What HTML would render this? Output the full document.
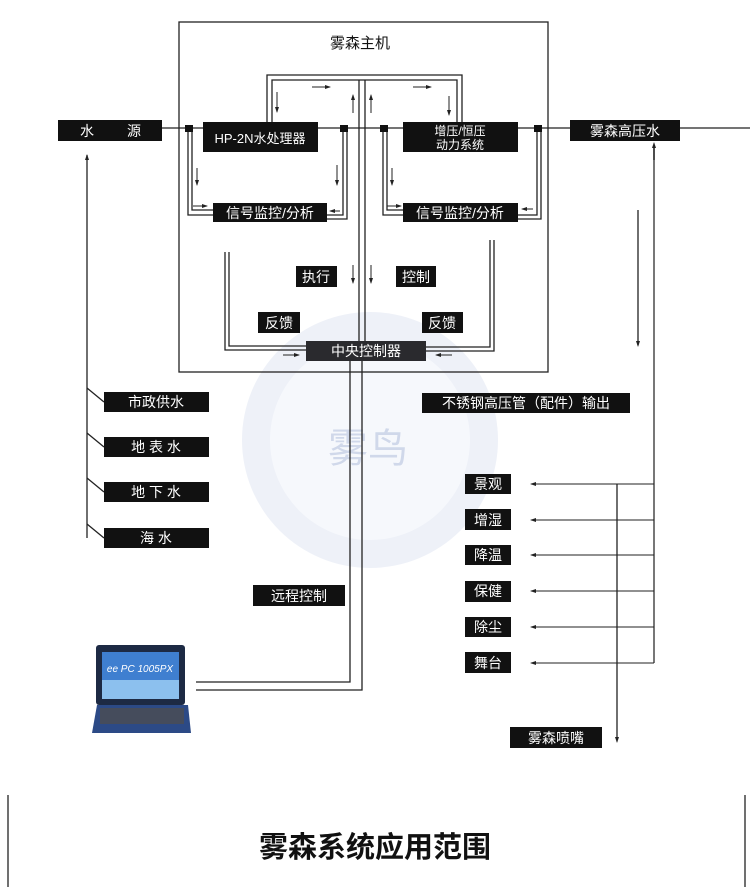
<!DOCTYPE html>
<html><head><meta charset="utf-8"><style>
html,body{margin:0;padding:0;background:#fff}
svg{display:block}
text{font-family:"Liberation Sans","Noto Sans CJK SC",sans-serif}
.w{fill:#fff;font-size:14px}
</style></head><body>
<svg width="750" height="887" viewBox="0 0 750 887" xmlns="http://www.w3.org/2000/svg">
<defs><marker id="a" markerWidth="6" markerHeight="6" refX="5" refY="3" orient="auto"><path d="M0,1 L6,3 L0,5z" fill="#222"/></marker></defs>
<!-- watermark -->
<circle cx="370" cy="440" r="128" fill="#eef1f8"/>
<circle cx="370" cy="440" r="100" fill="#f6f8fc"/>
<text x="368" y="462" font-size="40" fill="#d0d8ea" text-anchor="middle">雾鸟</text>
<g fill="none" stroke="#222" stroke-width="1.3">
<rect x="179" y="22" width="369" height="350"/>
<line x1="58" y1="128" x2="750" y2="128"/>
<!-- top loop -->
<path d="M267 128 V75 H462 V128"/><path d="M272 128 V80 H457 V128"/>
<line x1="359" y1="80" x2="359" y2="345"/><line x1="365" y1="80" x2="365" y2="345"/>
<!-- left signal loops -->
<path d="M188 128 V215 H213"/><path d="M192 128 V210 H213"/>
<path d="M343 128 V215 H327"/><path d="M347 128 V219 H327"/>
<path d="M383 128 V215 H403"/><path d="M387 128 V210 H403"/>
<path d="M537 128 V215 H518"/><path d="M541 128 V219 H518"/>
<!-- feedback -->
<path d="M225 252 V350 H306"/><path d="M229 252 V346 H306"/>
<path d="M490 240 V347 H426"/><path d="M494 240 V351 H426"/>
<!-- remote -->
<path d="M350 361 V682 H196"/><path d="M362 361 V690 H196"/>
<!-- left sources -->
<line x1="87" y1="155" x2="87" y2="538"/>
<line x1="87" y1="388" x2="104" y2="402"/><line x1="87" y1="433" x2="104" y2="447"/>
<line x1="87" y1="478" x2="104" y2="492"/><line x1="87" y1="524" x2="104" y2="538"/>
<!-- right -->
<line x1="654" y1="663" x2="654" y2="146" stroke="#777" stroke-width="2"/>
<line x1="638" y1="210" x2="638" y2="345"/>
<line x1="617" y1="484" x2="617" y2="740"/>
<g stroke-width="1">
<line x1="654" y1="484" x2="533" y2="484"/><line x1="654" y1="520" x2="533" y2="520"/>
<line x1="654" y1="555" x2="533" y2="555"/><line x1="654" y1="591" x2="533" y2="591"/>
<line x1="654" y1="627" x2="533" y2="627"/><line x1="654" y1="663" x2="533" y2="663"/>
</g>
<line x1="8" y1="795" x2="8" y2="887"/><line x1="745" y1="795" x2="745" y2="887"/>
</g>
<!-- small arrows -->
<g stroke="#222" stroke-width="1" marker-end="url(#a)">
<line x1="312" y1="87" x2="330" y2="87"/><line x1="413" y1="87" x2="431" y2="87"/>
<line x1="277" y1="92" x2="277" y2="112"/><line x1="449" y1="96" x2="449" y2="115"/>
<line x1="353" y1="113" x2="353" y2="95"/><line x1="371" y1="113" x2="371" y2="95"/>
<line x1="197" y1="168" x2="197" y2="185"/><line x1="337" y1="165" x2="337" y2="185"/>
<line x1="392" y1="168" x2="392" y2="185"/>
<line x1="193" y1="206" x2="207" y2="206"/><line x1="387" y1="206" x2="401" y2="206"/>
<line x1="340" y1="211" x2="330" y2="211"/><line x1="533" y1="209" x2="522" y2="209"/>
<line x1="353" y1="265" x2="353" y2="283"/><line x1="371" y1="265" x2="371" y2="283"/>
<line x1="283" y1="355" x2="299" y2="355"/><line x1="452" y1="355" x2="436" y2="355"/>
<line x1="654" y1="160" x2="654" y2="143"/><line x1="638" y1="330" x2="638" y2="346"/>
<line x1="617" y1="730" x2="617" y2="742"/>
<line x1="87" y1="170" x2="87" y2="155"/>
<line x1="545" y1="484" x2="531" y2="484"/><line x1="545" y1="520" x2="531" y2="520"/>
<line x1="545" y1="555" x2="531" y2="555"/><line x1="545" y1="591" x2="531" y2="591"/>
<line x1="545" y1="627" x2="531" y2="627"/><line x1="545" y1="663" x2="531" y2="663"/>
</g>
<g fill="#111">
<rect x="185" y="125" width="8" height="7"/><rect x="340" y="125" width="8" height="7"/>
<rect x="380" y="125" width="8" height="7"/><rect x="534" y="125" width="8" height="7"/>
<rect x="58" y="120" width="104" height="21"/><rect x="570" y="120" width="110" height="21"/>
<rect x="203" y="122" width="115" height="30"/><rect x="403" y="122" width="115" height="30"/>
<rect x="213" y="203" width="114" height="19"/><rect x="403" y="203" width="115" height="19"/>
<rect x="296" y="266" width="41" height="21"/><rect x="396" y="266" width="40" height="21"/>
<rect x="258" y="312" width="42" height="21"/><rect x="422" y="312" width="41" height="21"/>
<rect x="306" y="341" width="120" height="20" fill="#2a2a2e"/>
<rect x="104" y="392" width="105" height="20"/><rect x="104" y="437" width="105" height="20"/>
<rect x="104" y="482" width="105" height="20"/><rect x="104" y="528" width="105" height="20"/>
<rect x="422" y="393" width="208" height="20"/>
<rect x="465" y="474" width="46" height="20"/><rect x="465" y="509" width="46" height="21"/>
<rect x="465" y="545" width="46" height="20"/><rect x="465" y="581" width="46" height="21"/>
<rect x="465" y="617" width="46" height="20"/><rect x="465" y="652" width="46" height="21"/>
<rect x="510" y="727" width="92" height="21"/><rect x="253" y="585" width="92" height="21"/>
</g>
<text x="360" y="48" font-size="15" text-anchor="middle" fill="#111">雾森主机</text>
<g class="w">
<text x="80" y="136">水</text><text x="127" y="136">源</text>
<text x="625" y="136" text-anchor="middle">雾森高压水</text>
<text x="260" y="143" text-anchor="middle" font-size="13">HP-2N水处理器</text>
<text x="460" y="135" text-anchor="middle" font-size="12">增压/恒压</text>
<text x="460" y="149" text-anchor="middle" font-size="12">动力系统</text>
<text x="270" y="218" text-anchor="middle">信号监控/分析</text>
<text x="460" y="218" text-anchor="middle">信号监控/分析</text>
<text x="316" y="282" text-anchor="middle">执行</text><text x="416" y="282" text-anchor="middle">控制</text>
<text x="279" y="328" text-anchor="middle">反馈</text><text x="442" y="328" text-anchor="middle">反馈</text>
<text x="366" y="356" text-anchor="middle">中央控制器</text>
<text x="156" y="407" text-anchor="middle">市政供水</text>
<text x="156" y="452" text-anchor="middle">地 表  水</text>
<text x="156" y="497" text-anchor="middle">地 下  水</text>
<text x="156" y="543" text-anchor="middle">海     水</text>
<text x="526" y="408" text-anchor="middle">不锈钢高压管（配件）输出</text>
<text x="488" y="489" text-anchor="middle">景观</text><text x="488" y="525" text-anchor="middle">增湿</text>
<text x="488" y="560" text-anchor="middle">降温</text><text x="488" y="596" text-anchor="middle">保健</text>
<text x="488" y="632" text-anchor="middle">除尘</text><text x="488" y="668" text-anchor="middle">舞台</text>
<text x="556" y="743" text-anchor="middle">雾森喷嘴</text>
<text x="299" y="601" text-anchor="middle">远程控制</text>
</g>
<!-- laptop -->
<rect x="96" y="645" width="89" height="60" rx="3" fill="#1d2a44"/>
<rect x="102" y="652" width="77" height="47" fill="#3f7fd0"/>
<rect x="102" y="680" width="77" height="19" fill="#8cc0ee"/>
<text x="140" y="672" font-size="10" font-style="italic" fill="#fff" text-anchor="middle" font-family="Liberation Serif">ee PC 1005PX</text>
<path d="M97 705 H188 L191 733 H92 Z" fill="#2c4a86"/>
<rect x="100" y="708" width="84" height="16" fill="#454c5c"/>
<text x="375" y="857" font-size="29" font-weight="bold" text-anchor="middle" fill="#111">雾森系统应用范围</text>
</svg>
</body></html>
